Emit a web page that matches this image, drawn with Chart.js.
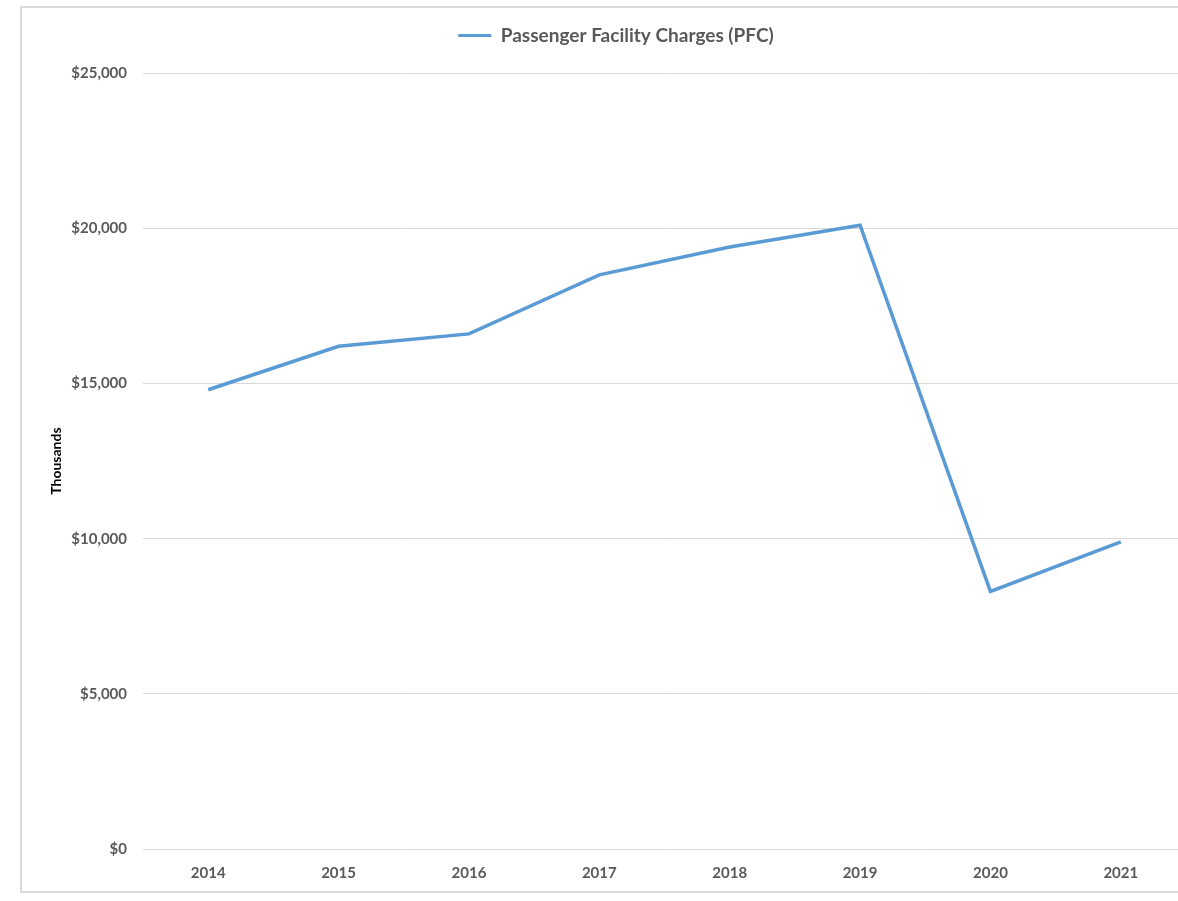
<!DOCTYPE html>
<html>
<head>
<meta charset="utf-8">
<script src="https://cdn.jsdelivr.net/npm/chart.js@4/dist/chart.umd.min.js"></script>
<style>
  html, body { margin: 0; padding: 0; background: #fff; overflow: hidden; width: 1178px; height: 901px; }
  .edge { position: absolute; background: #d9d9d9; }
  #top { left: 20px; top: 6px; width: 1158px; height: 2px; }
  #bottom { left: 20px; top: 891px; width: 1158px; height: 2px; }
  #left { left: 20px; top: 6px; width: 2px; height: 887px; }
  #inner { position: absolute; left: 22px; top: 8px; width: 1198px; height: 883px; }
</style>
</head>
<body>
<div id="inner"><canvas id="pfcChart"></canvas></div>
<div class="edge" id="top"></div>
<div class="edge" id="bottom"></div>
<div class="edge" id="left"></div>
<script>
const years = ["2014", "2015", "2016", "2017", "2018", "2019", "2020", "2021"];
const pfcValues = [14800, 16200, 16600, 18500, 19400, 20100, 8300, 9900];
const yTicks = [0, 5000, 10000, 15000, 20000, 25000];

const fontFamily = "Lato, 'Open Sans', sans-serif";
const labelFont = { family: fontFamily, size: 15, weight: "bold" };
const grey = "#595959";

new Chart(document.getElementById("pfcChart"), {
  type: "line",
  data: {
    labels: years,
    datasets: [
      {
        label: "Passenger Facility Charges (PFC)",
        data: pfcValues,
        borderColor: "#5b9bd5",
        backgroundColor: "#5b9bd5",
        borderWidth: 3.5,
        pointRadius: 0,
        tension: 0,
      },
    ],
  },
  options: {
    responsive: true,
    maintainAspectRatio: false,
    animation: false,
    layout: { padding: { top: 0, right: 34, left: 24, bottom: 0 } },
    plugins: {
      legend: {
        display: true,
        position: "top",
        labels: {
          color: grey,
          font: { family: fontFamily, size: 19, weight: "bold" },
          boxWidth: 33,
          boxHeight: 3,
          padding: 18,
          generateLabels: (chart) => [{
            text: chart.data.datasets[0].label,
            fillStyle: "#5b9bd5",
            strokeStyle: "#5b9bd5",
            lineWidth: 0,
            fontColor: grey,
          }],
        },
      },
      // blank title used only as a spacer under the legend
      title: {
        display: true,
        text: " ",
        weight: 500,
        font: { size: 1 },
        padding: { top: 0, bottom: 17 },
      },
      tooltip: { enabled: false },
    },
    scales: {
      x: {
        offset: true,
        grid: { display: false, drawTicks: false },
        border: { display: false },
        ticks: { color: grey, font: labelFont, padding: 15 },
        afterFit: (scale) => { scale.height = 42; },
      },
      y: {
        min: 0,
        max: 25000,
        afterBuildTicks: (scale) => { scale.ticks = yTicks.map((v) => ({ value: v })); },
        grid: { color: "#d9d9d9", lineWidth: 1, drawTicks: false },
        border: { display: false },
        ticks: {
          color: grey,
          font: labelFont,
          padding: 16,
          callback: (v) => "$" + Number(v).toLocaleString("en-US"),
        },
        title: {
          display: true,
          text: "Thousands",
          color: "#000",
          font: { family: fontFamily, size: 14, weight: "bold" },
          padding: { top: 2, bottom: 0 },
        },
        afterFit: (scale) => { scale.width = 97; },
      },
    },
  },
});
</script>
</body>
</html>
